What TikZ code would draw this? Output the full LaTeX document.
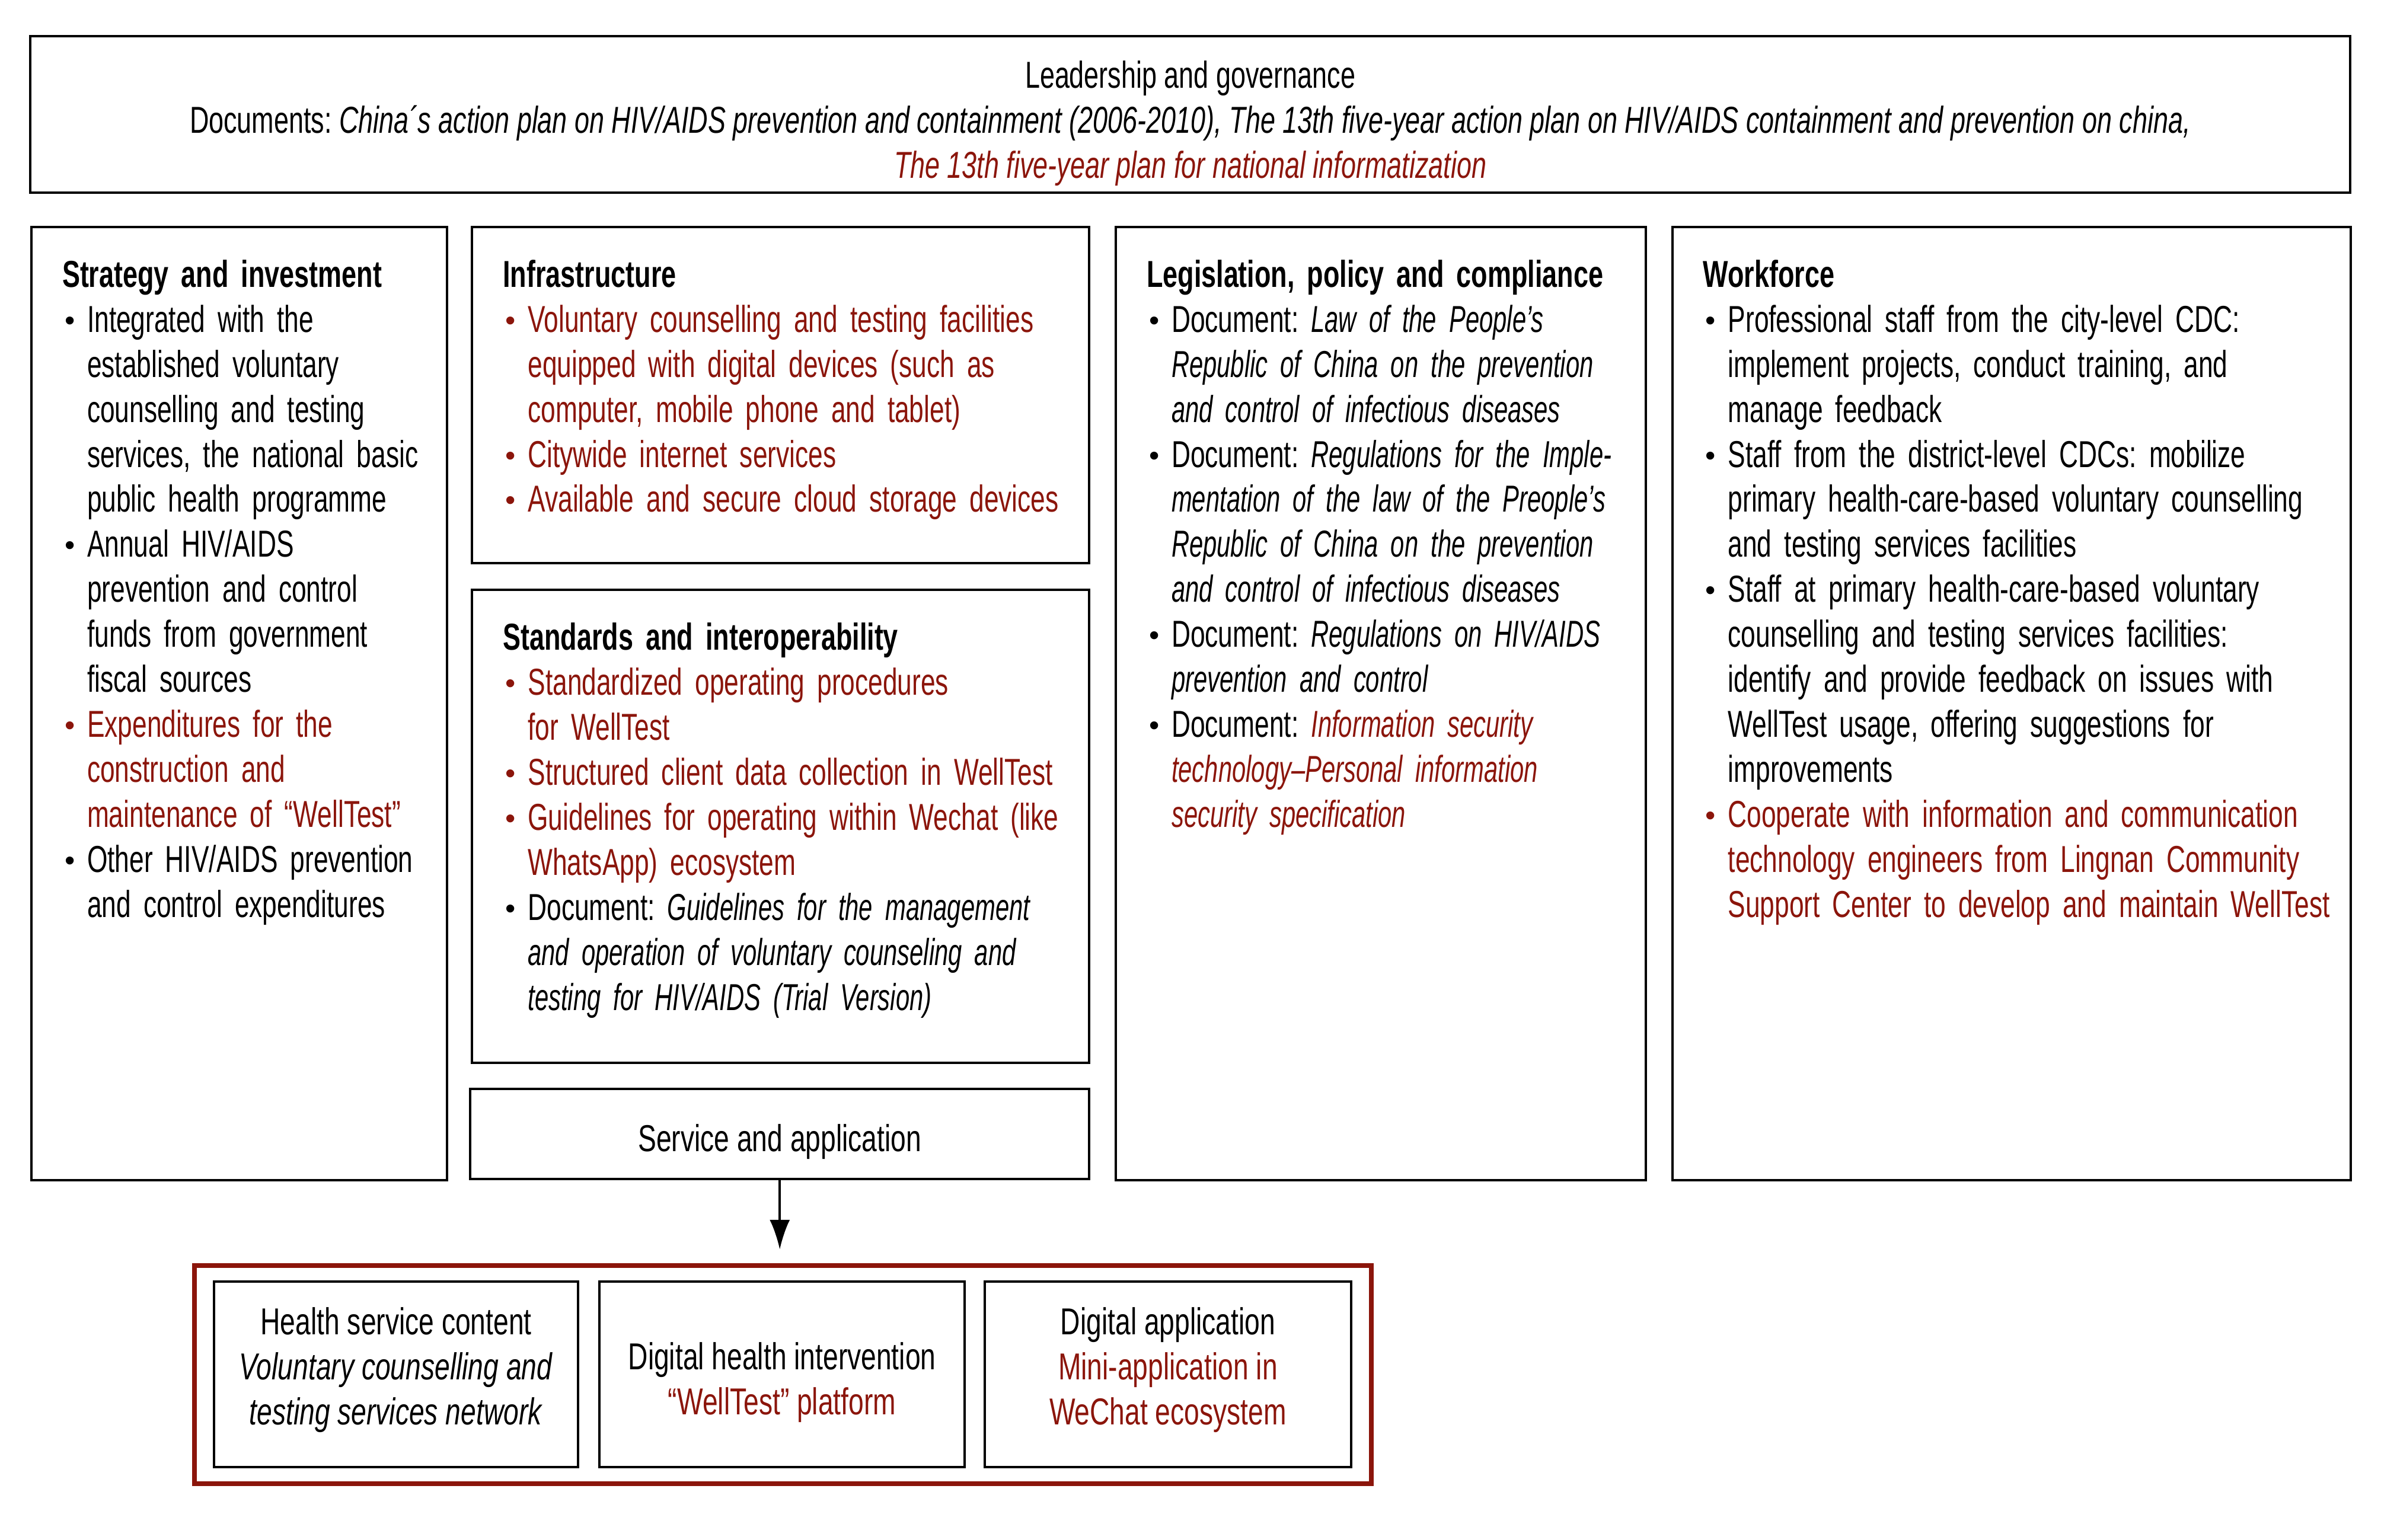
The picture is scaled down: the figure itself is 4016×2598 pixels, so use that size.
\documentclass[tikz,border=0pt]{standalone}
\usepackage{fontspec}
\setmainfont{Liberation Sans}[UprightFeatures={FakeStretch=0.70},BoldFeatures={FakeStretch=0.71},ItalicFeatures={FakeStretch=0.66}]
\newfontfamily\topfont{Liberation Sans}[FakeStretch=0.71]
\newfontfamily\botfont{Liberation Sans}[FakeStretch=0.73]
\newfontfamily\bulfont{Liberation Sans}
\usetikzlibrary{arrows.meta}
\definecolor{wtred}{RGB}{139,21,11}
% bullet item with hanging indent, in a given colour
\newcommand{\itemc}[1]{\par\hangindent=0.42cm\hangafter=1\noindent\color{#1}\makebox[0.42cm][l]{\hspace{0.04cm}\raisebox{0.03cm}{\bulfont\fontsize{14}{14}\selectfont\textbullet}}}
\newcommand{\itm}{\itemc{black}}
\newcommand{\ritm}{\itemc{wtred}}
\newcommand{\nl}{\newline}

\begin{document}
\begin{tikzpicture}[x=0.01cm,y=-0.01cm,>={Latex[length=0.5cm,width=0.34cm]},
    every node/.style={outer sep=0pt,inner sep=0pt,font=\fontsize{18}{21.6}\selectfont\frenchspacing},
    box/.style={draw=black,line width=0.04cm,anchor=north west,align=center},
    coltext/.style={anchor=north west,align=left},
    bottext/.style={font=\botfont\fontsize{18}{21.6}\selectfont\frenchspacing}]
        \useasboundingbox (0,0) rectangle (4016,2598);

        % leadership on top
        \node [box, font=\topfont\fontsize{18}{21.6}\selectfont\frenchspacing, minimum width=39.11cm, minimum height=2.64cm] at (51,61) (lead) {\rule{0pt}{0.76cm}Leadership and governance\\
        Documents: \textit{China´s action plan on HIV/AIDS prevention and containment (2006-2010), The 13th five-year action plan on HIV/AIDS containment and prevention on china,}\\
        \textcolor{wtred}{\textit{The 13th five-year plan for national informatization}}};

        % the four columns
        \node [box, minimum width=7.01cm, minimum height=16.07cm] at (53,383) (strat) {};
        \node [box, minimum width=10.40cm, minimum height=5.67cm] at ([xshift=0.42cm]strat.north east) (infra) {};
        \node [box, minimum width=10.40cm, minimum height=7.97cm] at ([yshift=-0.45cm]infra.south west) (stand) {};
        \node [box, bottext, minimum width=10.43cm, minimum height=1.52cm] at ([xshift=-0.03cm,yshift=-0.44cm]stand.south west) (svc) {\rule{0pt}{0.72cm}Service and application};
        \node [box, minimum width=8.93cm, minimum height=16.07cm] at ([xshift=0.45cm]infra.north east) (legis) {};
        \node [box, minimum width=11.44cm, minimum height=16.07cm] at ([xshift=0.45cm]legis.north east) (work) {};

        \node [coltext, text width=6.4cm] at ([xshift=0.52cm,yshift=-0.48cm]strat.north west) (strattxt) {\strut\textbf{Strategy and investment}
        \itm Integrated with the\nl established voluntary\nl counselling and testing\nl services, the national basic\nl public health programme
        \itm Annual HIV/AIDS\nl prevention and control\nl funds from government\nl fiscal sources
        \ritm Expenditures for the\nl construction and\nl maintenance of “WellTest”
        \itm Other HIV/AIDS prevention\nl and control expenditures\par};

        \node [coltext, text width=10.1cm] at ([xshift=0.52cm,yshift=-0.48cm]infra.north west) (infratxt) {\strut\textbf{Infrastructure}
        \ritm Voluntary counselling and testing facilities\nl equipped with digital devices (such as\nl computer, mobile phone and tablet)
        \ritm Citywide internet services
        \ritm Available and secure cloud storage devices\par};

        \node [coltext, text width=10.1cm] at ([xshift=0.52cm,yshift=-0.48cm]stand.north west) (standtxt) {\strut\textbf{Standards and interoperability}
        \ritm Standardized operating procedures\nl for WellTest
        \ritm Structured client data collection in WellTest
        \ritm Guidelines for operating within Wechat (like\nl WhatsApp) ecosystem
        \itm Document: \textit{Guidelines for the management\nl and operation of voluntary counseling and\nl testing for HIV/AIDS (Trial Version)}\par};

        \node [coltext, text width=8.6cm] at ([xshift=0.52cm,yshift=-0.48cm]legis.north west) (legistxt) {\strut\textbf{Legislation, policy and compliance}
        \itm Document: \textit{Law of the People’s\nl Republic of China on the prevention\nl and control of infectious diseases}
        \itm Document: \textit{Regulations for the Imple-\nl mentation of the law of the Preople’s\nl Republic of China on the prevention\nl and control of infectious diseases}
        \itm Document: \textit{Regulations on HIV/AIDS\nl prevention and control}
        \itm Document: \textcolor{wtred}{\textit{Information security\nl technology--Personal information\nl security specification}}\par};

        \node [coltext, text width=11.1cm] at ([xshift=0.52cm,yshift=-0.48cm]work.north west) (worktxt) {\strut\textbf{Workforce}
        \itm Professional staff from the city-level CDC:\nl implement projects, conduct training, and\nl manage feedback
        \itm Staff from the district-level CDCs: mobilize\nl primary health-care-based voluntary counselling\nl and testing services facilities
        \itm Staff at primary health-care-based voluntary\nl counselling and testing services facilities:\nl identify and provide feedback on issues with\nl WellTest usage, offering suggestions for\nl improvements
        \ritm Cooperate with information and communication\nl technology engineers from Lingnan Community\nl Support Center to develop and maintain WellTest\par};

        % service and application below
        \node [box, draw=wtred, line width=0.08cm, minimum width=19.84cm, minimum height=3.68cm] at (328,2135) (outer) {};
        \node [box, bottext, minimum width=6.14cm, minimum height=3.13cm] at ([xshift=0.33cm,yshift=-0.27cm]outer.north west) (hsc) {Health service content\\ \textit{Voluntary counselling and}\\ \textit{testing services network}\rule[-0.29cm]{0pt}{0.29cm}};
        \node [box, bottext, minimum width=6.15cm, minimum height=3.13cm] at ([xshift=0.36cm]hsc.north east) (dhi) {\rule{0pt}{0.72cm}Digital health intervention\\ \textcolor{wtred}{“WellTest” platform}};
        \node [box, bottext, minimum width=6.18cm, minimum height=3.13cm] at ([xshift=0.34cm]dhi.north east) (dapp) {Digital application\\ \textcolor{wtred}{Mini-application in}\\ \textcolor{wtred}{WeChat ecosystem}\rule[-0.29cm]{0pt}{0.29cm}};

        \draw [->, line width=0.04cm, shorten >=0.27cm] (svc.south) -- (svc.south |- outer.north);

\end{tikzpicture}
\end{document}
